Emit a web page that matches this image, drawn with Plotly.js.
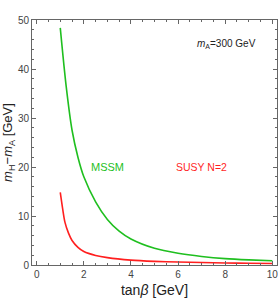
<!DOCTYPE html>
<html><head><meta charset="utf-8">
<script src="https://cdn.plot.ly/plotly-3.0.1.min.js"></script>
<style>html,body{margin:0;padding:0;background:#fff}</style>
</head><body><div id="chart" style="width:278px;height:298px"></div>
<script>
const tanBetaMSSM = [1, 1.25, 1.5, 1.75, 2, 2.5, 3, 3.5, 4, 5, 6, 7, 8, 9, 10];
const deltaMSSM   = [48.4, 36.5, 27.5, 22.0, 18.0, 12.9, 9.3, 6.9, 5.3, 3.4, 2.4, 1.75, 1.3, 1.05, 0.88];
const tanBetaN2   = [1, 1.1, 1.2, 1.35, 1.5, 1.75, 2, 2.5, 3, 4, 5, 6, 7, 8, 9, 10];
const deltaN2     = [14.8, 11.5, 8.7, 6.5, 5.0, 3.6, 2.75, 1.95, 1.5, 1.0, 0.75, 0.6, 0.5, 0.42, 0.36, 0.32];
const xTicks = [0, 2, 4, 6, 8, 10];
const yTicks = [0, 10, 20, 30, 40, 50];

const green = '#1fbf1f', red = '#ff1f1f';
const FONT = 'Liberation Sans, Arial, sans-serif';
const traces = [
  {x: tanBetaMSSM, y: deltaMSSM, mode: 'lines', line: {color: green, width: 1.6, shape: 'spline', smoothing: 0.8}, hoverinfo: 'skip'},
  {x: tanBetaN2, y: deltaN2, mode: 'lines', line: {color: red, width: 1.6, shape: 'spline', smoothing: 0.8}, hoverinfo: 'skip'}
];
const axisCommon = {
  showgrid: false, zeroline: false, showline: true, mirror: 'ticks',
  linecolor: '#666', linewidth: 1, ticks: 'inside', ticklen: 4, tickcolor: '#666',
  ticklabeloverflow: 'allow',
  tickfont: {family: FONT, size: 10, color: '#444'}
};
const layout = {
  width: 278, height: 298,
  margin: {l: 32, r: 1, t: 20, b: 33},
  paper_bgcolor: '#fff', plot_bgcolor: '#fff',
  showlegend: false,
  xaxis: Object.assign({}, axisCommon, {
    range: [-0.2, 10.2], tickvals: xTicks, ticktext: xTicks.map(String),
    minor: {dtick: 0.5, tick0: 0, ticks: 'inside', ticklen: 2, tickcolor: '#666'},
    title: {text: 'tan<i>β</i> [GeV]', font: {family: FONT, size: 14, color: '#222'}, standoff: 8}
  }),
  yaxis: Object.assign({}, axisCommon, {
    range: [0, 50], tickvals: yTicks, ticktext: yTicks.map(String),
    minor: {dtick: 2, tick0: 0, ticks: 'inside', ticklen: 2, tickcolor: '#666'},
    title: {text: '<i>m</i><sub>H</sub>−<i>m</i><sub>A</sub> [GeV]', font: {family: FONT, size: 13, color: '#222'}, standoff: 4}
  }),
  annotations: [
    {x: 6.72, y: 45.1, xref: 'x', yref: 'y', xanchor: 'left', yanchor: 'middle', showarrow: false, text: '<i>m</i><sub>A</sub>=300 GeV', font: {family: FONT, size: 10, color: '#222'}},
    {x: 2.99, y: 20, xref: 'x', yref: 'y', showarrow: false, text: 'MSSM', font: {family: FONT, size: 11, color: green}},
    {x: 6.98, y: 20, xref: 'x', yref: 'y', showarrow: false, text: 'SUSY N=2', font: {family: FONT, size: 10.5, color: red}}
  ]
};
Plotly.newPlot('chart', traces, layout, {staticPlot: true, displayModeBar: false});
</script></body></html>
